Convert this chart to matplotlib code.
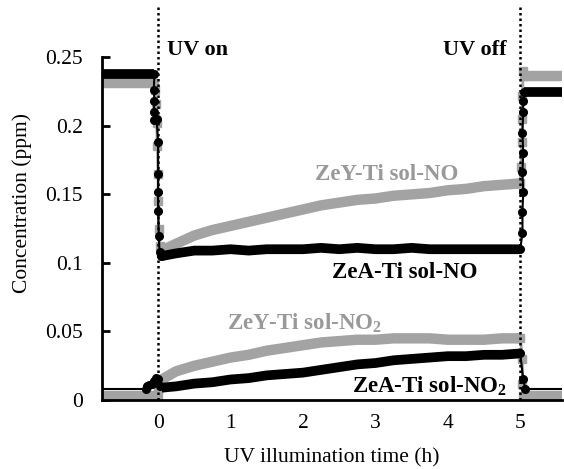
import matplotlib.pyplot as plt

plt.rcParams["font.family"] = ["Liberation Serif", "DejaVu Serif"]
plt.rcParams["mathtext.fontset"] = "custom"
plt.rcParams["mathtext.rm"] = "Liberation Serif"
plt.rcParams["mathtext.bf"] = "Liberation Serif:bold"

GRAY = "#a3a3a3"
BLACK = "#000000"

# before UV (baseline), h
tBefore = [-0.77, -0.05]
zeyNoBefore = [0.231, 0.231]
zeaNoBefore = [0.238, 0.238]
zeyNo2Before = [0.003, 0.003]
zeaNo2Before = [0.008, 0.008]

# drop when UV switched on
tZeyNoOn = [-0.05, -0.04, -0.03, -0.02, -0.01, 0.0, 0.0, 0.01, 0.02, 0.04]
zeyNoOn = [0.231, 0.226, 0.216, 0.202, 0.185, 0.165, 0.145, 0.125, 0.112, 0.108]
tZeaNoOn = [-0.05, -0.06, -0.05, -0.06, -0.05, -0.02, 0.0, 0.0, 0.0, 0.0, 0.01, 0.02, 0.04]
zeaNoOn = [0.238, 0.226, 0.218, 0.210, 0.204, 0.205, 0.188, 0.165, 0.152, 0.138, 0.120, 0.108, 0.105]
tZeaNo2On = [-0.17, -0.15, -0.12, -0.09, -0.06, -0.03, 0.0, 0.03]
zeaNo2On = [0.008, 0.010, 0.011, 0.012, 0.014, 0.016, 0.015, 0.010]
tZeyNo2On = [0.0, 0.0, 0.01, 0.03]
zeyNo2On = [0.003, 0.008, 0.012, 0.014]

# UV on, h
tUv = [0.05, 0.25, 0.5, 0.75, 1.0, 1.25, 1.5, 1.75, 2.0, 2.25, 2.5,
       2.75, 3.0, 3.25, 3.5, 3.75, 4.0, 4.25, 4.5, 4.75, 5.0]
zeyNoUv = [0.109, 0.114, 0.120, 0.124, 0.127, 0.130, 0.133, 0.136, 0.139, 0.142, 0.144,
           0.146, 0.147, 0.149, 0.150, 0.151, 0.153, 0.154, 0.156, 0.157, 0.158]
zeaNoUv = [0.105, 0.107, 0.109, 0.109, 0.110, 0.109, 0.110, 0.110, 0.110, 0.111, 0.110,
           0.111, 0.110, 0.110, 0.111, 0.110, 0.110, 0.110, 0.110, 0.110, 0.110]
zeyNo2Uv = [0.015, 0.021, 0.025, 0.028, 0.031, 0.033, 0.036, 0.038, 0.040, 0.042, 0.043,
            0.044, 0.044, 0.045, 0.045, 0.045, 0.044, 0.044, 0.044, 0.045, 0.045]
zeaNo2Uv = [0.009, 0.010, 0.012, 0.013, 0.015, 0.016, 0.018, 0.019, 0.020, 0.022, 0.024,
            0.026, 0.027, 0.029, 0.030, 0.031, 0.032, 0.032, 0.033, 0.033, 0.034]

# UV switched off
tZeyNoOff = [5.0, 5.01, 5.02, 5.03, 5.03, 5.04, 5.05]
zeyNoOff = [0.158, 0.170, 0.188, 0.205, 0.222, 0.240, 0.236]
tZeaNoOff = [5.0, 5.03, 5.03, 5.04, 5.03, 5.04, 5.03, 5.04, 5.04, 5.05]
zeaNoOff = [0.110, 0.122, 0.137, 0.152, 0.166, 0.180, 0.195, 0.210, 0.218, 0.225]
tZeyNo2Off = [5.0, 5.03, 5.03, 5.04]
zeyNo2Off = [0.045, 0.030, 0.012, 0.003]
tZeaNo2Off = [5.0, 5.04, 5.07]
zeaNo2Off = [0.034, 0.015, 0.008]

tAfter = [5.05, 5.58]
zeyNoAfter = [0.236, 0.236]
zeaNoAfter = [0.225, 0.225]
zeyNo2After = [0.003, 0.003]
zeaNo2After = [0.008, 0.008]

fig = plt.figure(figsize=(5.64, 4.69), dpi=100)
ax = fig.add_axes([0.181, 0.147, 0.816, 0.842])

band = dict(solid_capstyle="butt", solid_joinstyle="round")
# gray (ZeY) series
for t, v in [(tBefore, zeyNoBefore), (tUv, zeyNoUv), (tAfter, zeyNoAfter),
             (tBefore[:1] + [0.05], zeyNo2Before), (tUv, zeyNo2Uv), (tAfter, zeyNo2After)]:
    ax.plot(t, v, color=GRAY, lw=7.5, zorder=2, **band)
for t, v in [(tZeyNoOn, zeyNoOn), (tZeyNoOff, zeyNoOff), (tZeyNo2On, zeyNo2On), (tZeyNo2Off, zeyNo2Off)]:
    ax.plot(t, v, color=GRAY, lw=2, marker="s", ms=5.5, zorder=2)

# black (ZeA) series
for t, v in [(tBefore, zeaNoBefore), (tUv, zeaNoUv), (tAfter, zeaNoAfter), (tUv, zeaNo2Uv)]:
    ax.plot(t, v, color=BLACK, lw=7, zorder=3, **band)
ax.plot([tBefore[0], -0.17], zeaNo2Before, color=BLACK, lw=1.5, zorder=3)
ax.plot([5.07, tAfter[1]], zeaNo2After, color=BLACK, lw=1.5, zorder=3)
for t, v in [(tZeaNoOn, zeaNoOn), (tZeaNoOff, zeaNoOff), (tZeaNo2On, zeaNo2On), (tZeaNo2Off, zeaNo2Off)]:
    ax.plot(t, v, color=BLACK, lw=1.5, marker="o", ms=5.5, zorder=3)

for x in (0, 5):
    ax.axvline(x, color=BLACK, lw=1.8, ls=(0, (1, 1.2)), zorder=4)

lbl = dict(fontsize=16.5, fontweight="bold", va="baseline")
ax.text(0.12, 0.2518, "UV on", ha="left", color=BLACK, fontsize=16, fontweight="bold", va="baseline")
ax.text(4.81, 0.2518, "UV off", ha="right", color=BLACK, fontsize=16, fontweight="bold", va="baseline")
ax.text(3.15, 0.1606, "ZeY-Ti sol-NO", ha="center", color="#999999", **lbl)
ax.text(3.40, 0.0890, "ZeA-Ti sol-NO", ha="center", color=BLACK, **lbl)
ax.text(2.02, 0.0518, r"ZeY-Ti sol-NO$_\mathbf{2}$", ha="center", color="#999999", **lbl)
ax.text(4.82, 0.0058, r"ZeA-Ti sol-NO$_\mathbf{2}$", ha="right", color=BLACK, **lbl)

ax.set_xlim(-0.773, 5.58)
ax.set_ylim(0, 0.288)
ax.set_xticks([0, 1, 2, 3, 4, 5])
ax.set_yticks([0, 0.05, 0.1, 0.15, 0.2, 0.25])
ax.set_yticklabels(["0", "0.05", "0.1", "0.15", "0.2", "0.25"])
ax.spines["top"].set_visible(False)
ax.spines["right"].set_visible(False)
ax.spines["left"].set_bounds(0, 0.25)
for side in ("left", "bottom"):
    ax.spines[side].set_linewidth(2)
    ax.spines[side].set_zorder(3.5)
ax.tick_params(axis="y", direction="in", length=6, width=2, labelsize=15.5, pad=14)
ax.tick_params(axis="x", length=0, labelsize=15.5, pad=10)
ax.set_xlabel("UV illumination time (h)", fontsize=15.5, labelpad=11)
ax.set_ylabel("Concentration (ppm)", fontsize=15.5, labelpad=9)

fig.savefig("out.png", dpi=100)
